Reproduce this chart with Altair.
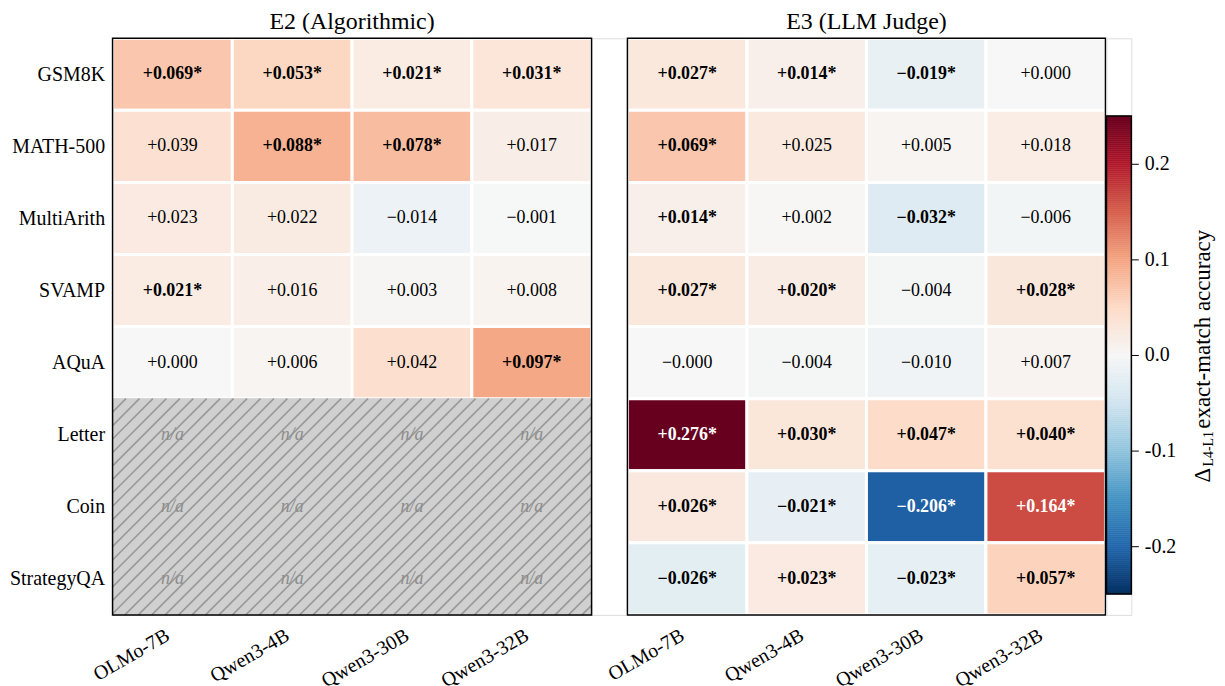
import altair as alt
import numpy as np
import pandas as pd

models = ["OLMo-7B", "Qwen3-4B", "Qwen3-30B", "Qwen3-32B"]
datasets = ["GSM8K", "MATH-500", "MultiArith", "SVAMP", "AQuA", "Letter", "Coin", "StrategyQA"]

e2_vals = [
    [0.069, 0.053, 0.021, 0.031],
    [0.039, 0.088, 0.078, 0.017],
    [0.023, 0.022, -0.014, -0.001],
    [0.021, 0.016, 0.003, 0.008],
    [0.000, 0.006, 0.042, 0.097],
    [None, None, None, None],
    [None, None, None, None],
    [None, None, None, None],
]
e2_sig = [
    [1, 1, 1, 1],
    [0, 1, 1, 0],
    [0, 0, 0, 0],
    [1, 0, 0, 0],
    [0, 0, 0, 1],
    [0, 0, 0, 0],
    [0, 0, 0, 0],
    [0, 0, 0, 0],
]
e3_vals = [
    [0.027, 0.014, -0.019, 0.000],
    [0.069, 0.025, 0.005, 0.018],
    [0.014, 0.002, -0.032, -0.006],
    [0.027, 0.020, -0.004, 0.028],
    [-0.0004, -0.004, -0.010, 0.007],
    [0.276, 0.030, 0.047, 0.040],
    [0.026, -0.021, -0.206, 0.164],
    [-0.026, 0.023, -0.023, 0.057],
]
e3_sig = [
    [1, 1, 1, 0],
    [1, 0, 0, 0],
    [1, 0, 1, 0],
    [1, 1, 0, 1],
    [0, 0, 0, 0],
    [1, 1, 1, 1],
    [1, 1, 1, 1],
    [1, 1, 1, 1],
]
cbar_ticks = [-0.2, -0.1, 0.0, 0.1, 0.2]

FONT = "Liberation Serif"
W1, W2, H = 481, 480, 579
GAP = 35
VMIN, VMAX = -0.25, 0.25
NC, NR = len(models), len(datasets)

# matplotlib RdBu_r anchor colours (ColorBrewer), linearly interpolated
rdbu_r = ["#053061", "#2166ac", "#4393c3", "#92c5de", "#d1e5f0", "#f7f7f7",
          "#fddbc7", "#f4a582", "#d6604d", "#b2182b", "#67001f"]
cstops = list(np.linspace(VMIN, VMAX, len(rdbu_r)))
cscale = alt.Scale(domain=cstops, range=rdbu_r, interpolate="rgb", clamp=True, nice=False, zero=False)


def build_df(vals, sig):
    rows = []
    for i, d in enumerate(datasets):
        for j, m in enumerate(models):
            v = vals[i][j]
            base = dict(dataset=d, model=m, c0=j, c1=j + 1, cm=j + 0.5, r0=i, r1=i + 1, rm=i + 0.5)
            if v is None:
                base.update(value=0.0, label="n/a", na=True, bold=False, tc="#000000")
            else:
                lab = f"{v:+.3f}".replace("-", "\u2212") + ("*" if sig[i][j] else "")
                base.update(value=v, label=lab, na=False, bold=bool(sig[i][j]),
                            tc="#ffffff" if abs(v) > 0.15 else "#000000")
            rows.append(base)
    return pd.DataFrame(rows)


def arr_expr(names):
    return "[" + ",".join("'" + n + "'" for n in names) + "][floor(datum.value)]"


def make_encoders(width, show_yaxis):
    xs = alt.Scale(domain=[0, NC], nice=False, zero=False, range=[0, width])
    ys = alt.Scale(domain=[0, NR], nice=False, zero=False, reverse=True)
    xax = alt.Axis(title=None, values=[j + 0.5 for j in range(NC)], labelExpr=arr_expr(models),
                   labelAngle=330, labelAlign="right", labelBaseline="top", labelPadding=10,
                   labelOffset=-10, ticks=False, domain=False, grid=False, labelFont=FONT,
                   labelFontSize=20, labelColor="black", labelFlush=False, labelOverlap=False)
    yax = alt.Axis(title=None, values=[i + 0.5 for i in range(NR)], labelExpr=arr_expr(datasets),
                   ticks=False, domain=False, grid=False, labelPadding=8,
                   labelFont=FONT, labelFontSize=20, labelColor="black", labelFlush=False,
                   labelOverlap=False)

    def xq(field):
        return alt.X(field, type="quantitative", scale=xs, axis=xax, title=None)

    def yq(field):
        if show_yaxis:
            return alt.Y(field, type="quantitative", scale=ys, axis=yax, title=None)
        return alt.Y(field, type="quantitative", scale=ys, axis=None)
    return xq, yq


def panel(vals, sig, title, width, total_width, show_yaxis):
    xq, yq = make_encoders(width, show_yaxis)
    df = build_df(vals, sig)
    dv = df[~df.na].reset_index(drop=True)
    dn = df[df.na].reset_index(drop=True)
    layers = []
    layers.append(alt.Chart(dv).mark_rect(stroke="white", strokeWidth=3).encode(
        x=xq("c0"), x2="c1", y=yq("r0"), y2="r1",
        color=alt.Color("value:Q", scale=cscale, legend=None)))
    if len(dn):
        layers.append(alt.Chart(dn).mark_rect(fill="#d0d0d0", stroke="#d0d0d0", strokeWidth=1).encode(
            x=xq("c0"), x2="c1", y=yq("r0"), y2="r1"))
        # diagonal hatch over the n/a block, computed in pixel space then mapped to cell units
        r_top = float(dn.r0.min())
        hh = H * (NR - r_top) / NR
        step = 13.5
        segs = []
        for c in np.arange(-hh, width + step, step):
            x0 = max(0.0, c)
            x1 = min(float(width), c + hh)
            if x1 > x0:
                segs.append(dict(hx0=x0 * NC / width, hy0=(H - (x0 - c)) * NR / H,
                                 hx1=x1 * NC / width, hy1=(H - (x1 - c)) * NR / H))
        layers.append(alt.Chart(pd.DataFrame(segs)).mark_rule(color="#999999", strokeWidth=1.6).encode(
            x=xq("hx0"), x2="hx1", y=yq("hy0"), y2="hy1"))
        layers.append(alt.Chart(dn).mark_text(font=FONT, fontSize=18, fontStyle="italic",
                                              color="#8c8c8c").encode(
            x=xq("cm"), y=yq("rm"), text="label:N"))
    for bold in (True, False):
        sub = dv[dv.bold == bold]
        if len(sub):
            layers.append(alt.Chart(sub).mark_text(font=FONT, fontSize=18,
                                                   fontWeight="bold" if bold else "normal").encode(
                x=xq("cm"), y=yq("rm"), text="label:N",
                color=alt.Color("tc:N", scale=None)))
    layers.append(alt.Chart(pd.DataFrame({"a": [0]})).mark_rect(
        fill="white", fillOpacity=0, stroke="black", strokeWidth=1.5).encode(
        x=alt.value(0), x2=alt.value(width), y=alt.value(0), y2=alt.value(H)))
    return alt.layer(*layers).properties(
        width=total_width, height=H,
        title=alt.TitleParams(title, font=FONT, fontSize=24, fontWeight="normal", offset=3,
                              anchor="middle", color="black", dx=-(total_width - width) / 2))


left = panel(e2_vals, e2_sig, "E2 (Algorithmic)", W1, W1 + GAP, True)
right = panel(e3_vals, e3_sig, "E3 (LLM Judge)", W2, W2, False)

# colorbar
CW = 25
px_per_unit = 480 / (VMAX - VMIN)
ytop = VMAX + (115 - 37) / px_per_unit
ybot = VMIN - (616 - 595) / px_per_unit
edges = np.linspace(VMIN, VMAX, 241)
gdf = pd.DataFrame({"v0": edges[:-1], "v1": edges[1:], "vm": (edges[:-1] + edges[1:]) / 2})
yscale = alt.Scale(domain=[ybot, ytop], nice=False, zero=False)
cax = alt.Axis(orient="right", title=None, values=cbar_ticks, domain=False, grid=False,
               tickSize=7, tickColor="black", tickWidth=1, labelPadding=6,
               labelFont=FONT, labelFontSize=20, labelColor="black",
               labelExpr="replace(format(datum.value, '.1f'), '\u2212', '-')")
grad = alt.Chart(gdf).mark_rect(strokeWidth=0.6).encode(
    x=alt.value(0), x2=alt.value(CW),
    y=alt.Y("v0:Q", scale=yscale, axis=cax, title=None),
    y2="v1:Q",
    color=alt.Color("vm:Q", scale=cscale, legend=None),
    stroke=alt.Stroke("vm:Q", scale=cscale, legend=None))
one = pd.DataFrame({"a": [0], "lo": [VMIN], "hi": [VMAX]})
cframe = alt.Chart(one).mark_rect(fill="white", fillOpacity=0, stroke="black", strokeWidth=1.5).encode(
    x=alt.value(0), x2=alt.value(CW), y=alt.Y("lo:Q", scale=yscale, axis=cax, title=None), y2="hi:Q")
t_delta = alt.Chart(one).mark_text(text="\u0394", angle=270, align="left", baseline="middle",
                                   font=FONT, fontSize=23, color="black").encode(
    x=alt.value(97), y=alt.value(446))
t_sub = alt.Chart(one).mark_text(text="L4-L1", angle=270, align="left", baseline="middle",
                                 font=FONT, fontSize=14, color="black").encode(
    x=alt.value(103), y=alt.value(430))
t_main = alt.Chart(one).mark_text(text="exact-match accuracy", angle=270, align="left", baseline="middle",
                                  font=FONT, fontSize=23, color="black").encode(
    x=alt.value(97), y=alt.value(392))
cbar = alt.layer(grad, cframe, t_delta, t_sub, t_main).properties(width=CW, height=H)

chart = alt.hconcat(left, right, cbar, spacing=1, bounds="flush").properties(
    padding={"left": 0, "top": 0, "right": 0, "bottom": 0}
).configure_view(strokeWidth=0, stroke=None).configure(font=FONT)

chart.save("out.html", embed_options={"renderer": "svg", "actions": False})
